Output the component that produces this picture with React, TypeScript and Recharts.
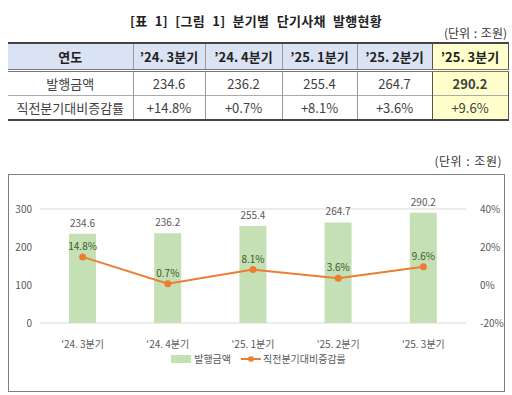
import { ComposedChart, Bar, Line, XAxis, YAxis, CartesianGrid, Legend, LabelList } from "recharts";

const quarters = ["'24. 3분기", "'24. 4분기", "'25. 1분기", "'25. 2분기", "'25. 3분기"];
const issued = [234.6, 236.2, 255.4, 264.7, 290.2];
const changeRate = [14.8, 0.7, 8.1, 3.6, 9.6];
const tableHeader = ["연도", "’24. 3분기", "’24. 4분기", "’25. 1분기", "’25. 2분기", "’25. 3분기"];
const rowIssued = ["발행금액", "234.6", "236.2", "255.4", "264.7", "290.2"];
const rowChange = ["직전분기대비증감률", "+14.8%", "+0.7%", "+8.1%", "+3.6%", "+9.6%"];
const colWidths = [125, 72, 77, 75, 75, 76];

const data = quarters.map((q, i) => ({ q, issued: issued[i], rate: changeRate[i] }));

const FONT = "'Noto Sans CJK KR', 'Noto Sans', sans-serif";
const GREEN = "#c5e0b4";
const ORANGE = "#ed7d31";

function LegendBox() {
  return (
    <div style={{ display: "flex", justifyContent: "center", alignItems: "center", gap: 10, fontSize: 10, color: "#595959", fontFamily: FONT, paddingLeft: 6 }}>
      <span style={{ display: "flex", alignItems: "center", gap: 3 }}>
        <svg width={20} height={8}><rect x={0} y={0} width={20} height={8} fill={GREEN} /></svg>
        발행금액
      </span>
      <span style={{ display: "flex", alignItems: "center", gap: 2 }}>
        <svg width={20} height={8}>
          <line x1={0} y1={4} x2={20} y2={4} stroke={ORANGE} strokeWidth={2} />
          <rect x={7.5} y={1.5} width={5} height={5} fill={ORANGE} />
        </svg>
        직전분기대비증감률
      </span>
    </div>
  );
}

function cellStyle(col: number, row: number): React.CSSProperties {
  const last = col === colWidths.length - 1;
  return {
    width: colWidths[col],
    height: row === 0 ? 27 : 25,
    padding: 0,
    textAlign: "center",
    fontWeight: row === 0 || (last && row === 1) ? 700 : 400,
    fontSize: 13,
    color: row === 0 ? "#222" : "#404040",
    background: last ? "#ffffcc" : row === 0 ? "#dae3f3" : "#fff",
    borderLeft: col === 0 ? "none" : last ? "1.5px solid #555" : "1px solid #999",
    borderRight: last ? "1.5px solid #555" : "none",
    borderTop: row === 0 ? "2px solid #444" : row === 1 ? "3px double #777" : "1px solid #aaa",
    borderBottom: row === 2 ? "2px solid #444" : "none",
    boxSizing: "border-box",
  };
}

export default function App() {
  const rows = [tableHeader, rowIssued, rowChange];
  return (
    <div style={{ position: "absolute", left: 0, top: 0, width: 512, height: 395, background: "#fff", fontFamily: FONT }}>
      <div style={{ position: "absolute", left: 0, top: 11, width: 512, textAlign: "center", fontSize: 13, fontWeight: 700, color: "#222", wordSpacing: 4, letterSpacing: 0.3 }}>
        [표 1] [그림 1] 분기별 단기사채 발행현황
      </div>
      <div style={{ position: "absolute", right: 5, top: 24, fontSize: 12, color: "#333", wordSpacing: 1 }}>(단위 : 조원)</div>
      <table style={{ position: "absolute", left: 8, top: 42, borderCollapse: "collapse", tableLayout: "fixed", width: 500 }}>
        <tbody>
          {rows.map((r, ri) => (
            <tr key={ri}>
              {r.map((c, ci) => (
                <td key={ci} style={cellStyle(ci, ri)}>{c}</td>
              ))}
            </tr>
          ))}
        </tbody>
      </table>
      <div style={{ position: "absolute", right: 10, top: 152, fontSize: 12, color: "#333", letterSpacing: 0.5, wordSpacing: 1 }}>(단위 : 조원)</div>
      <div style={{ position: "absolute", left: 8, top: 174, width: 497, height: 218, border: "1px solid #7f7f7f", boxSizing: "border-box" }}>
        <ComposedChart width={495} height={216} data={data} margin={{ top: 34, right: 2, left: 0, bottom: 16 }}>
          <CartesianGrid vertical={false} stroke="#d9d9d9" />
          <XAxis dataKey="q" axisLine={false} tickLine={false} height={28}
            tick={{ fill: "#595959", fontSize: 10, fontFamily: FONT }} tickMargin={12} />
          <YAxis yAxisId="l" domain={[0, 300]} ticks={[0, 100, 200, 300]} axisLine={false} tickLine={false} width={31}
            tick={{ fill: "#595959", fontSize: 10, fontFamily: FONT }} />
          <YAxis yAxisId="r" orientation="right" domain={[-20, 40]} ticks={[-20, 0, 20, 40]} axisLine={false} tickLine={false} width={36}
            tickMargin={8} tickFormatter={(v) => `${v}%`} tick={{ fill: "#595959", fontSize: 10, fontFamily: FONT }} />
          <Legend verticalAlign="bottom" height={24} content={() => <LegendBox />} />
          <Bar yAxisId="l" dataKey="issued" fill={GREEN} barSize={27} isAnimationActive={false}>
            <LabelList dataKey="issued" position="top" offset={7} fill="#595959" fontSize={10} fontFamily={FONT} />
          </Bar>
          <Line yAxisId="r" dataKey="rate" type="linear" stroke={ORANGE} strokeWidth={2} isAnimationActive={false}
            dot={{ r: 2.5, fill: ORANGE, stroke: ORANGE }}>
            <LabelList dataKey="rate" position="top" offset={7} fill="#3a5a2a" fontSize={10} fontFamily={FONT}
              formatter={(v: number) => `${v}%`} />
          </Line>
        </ComposedChart>
      </div>
    </div>
  );
}
